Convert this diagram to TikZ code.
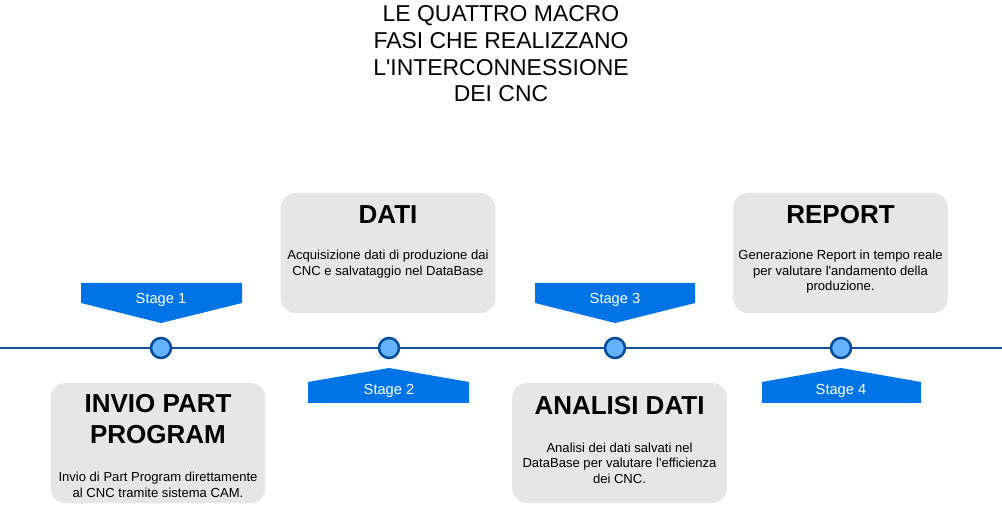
\documentclass[tikz,border=0pt]{standalone}
\usepackage{fontspec}
\setmainfont{Liberation Sans}
\usetikzlibrary{positioning}
\definecolor{stageblue}{RGB}{0,116,230}
\definecolor{dotfill}{RGB}{102,178,255}
\definecolor{dotline}{RGB}{0,76,153}
\definecolor{boxgray}{RGB}{230,230,230}
\definecolor{lineblue}{RGB}{16,80,150}
\begin{document}
\begin{tikzpicture}[x=0.75pt,y=-0.75pt]
\tikzstyle{dot}=[circle, draw=dotline, fill=dotfill, line width=1.9pt, minimum size=15pt, inner sep=0pt]
\tikzstyle{card}=[rectangle, rounded corners=11pt, fill=boxgray, minimum width=161pt, minimum height=90pt, inner sep=0pt]
\tikzstyle{head}=[font=\bfseries\fontsize{19.5}{23.5}\selectfont, align=center, inner sep=0pt]
\tikzstyle{body}=[font=\fontsize{9.8}{11.7}\selectfont, align=center, inner sep=0pt]
\tikzstyle{stage}=[text=white, font=\fontsize{11}{12}\selectfont, inner sep=0pt]
\tikzstyle{flag}=[fill=stageblue]
\useasboundingbox (0,0) rectangle (1002,505);

\node (T) at (501,54) [align=center, font=\fontsize{17.2}{20}\selectfont] {LE QUATTRO MACRO\\FASI CHE REALIZZANO\\L\textquotesingle INTERCONNESSIONE\\DEI CNC};

% timeline
\coordinate (L) at (0,348);
\coordinate (R) at (1002,348);
\draw[lineblue, line width=1.5pt] (L) -- (R);
\node[dot] (P1) at (161,348) {};
\node[dot] (P2) at (389,348) {};
\node[dot] (P3) at (615,348) {};
\node[dot] (P4) at (841,348) {};

% stage flags
\fill[flag] (81,283) -- (242,283) -- (242,303) -- (161,323) -- (81,303) -- cycle;
\node[stage] (S1) at (161,300) {Stage 1};
\fill[flag] (308,403) -- (469,403) -- (469,382) -- (389,368) -- (308,382) -- cycle;
\node[stage] (S2) at (389,391) {Stage 2};
\fill[flag] (535,283) -- (695,283) -- (695,303) -- (615,323) -- (535,303) -- cycle;
\node[stage] (S3) at (615,300) {Stage 3};
\fill[flag] (762,403) -- (921,403) -- (921,382) -- (841,368) -- (762,382) -- cycle;
\node[stage] (S4) at (841,391) {Stage 4};

% boxes
\node[card] (B1) at (158,443) {};
\node[head] (H1) at (158,419) {INVIO PART\\PROGRAM};
\node[body] (D1) at (158,485) {Invio di Part Program direttamente\\al CNC tramite sistema CAM.};

\node[card] (B2) at (388,253) {};
\node[head] (H2) at (388,215) {DATI};
\node[body] (D2) at (388,264) {Acquisizione dati di produzione dai\\CNC e salvataggio nel DataBase};

\node[card] (B3) at (619.5,443) {};
\node[head] (H3) at (619.5,406) {ANALISI DATI};
\node[body] (D3) at (619.5,463) {Analisi dei dati salvati nel\\DataBase per valutare l\textquotesingle efficienza\\dei CNC.};

\node[card] (B4) at (840.5,253) {};
\node[head] (H4) at (840.5,215) {REPORT};
\node[body] (D4) at (840.5,272) {Generazione Report in tempo reale\\per valutare l\textquotesingle andamento della\\produzione.};

\end{tikzpicture}
\end{document}
